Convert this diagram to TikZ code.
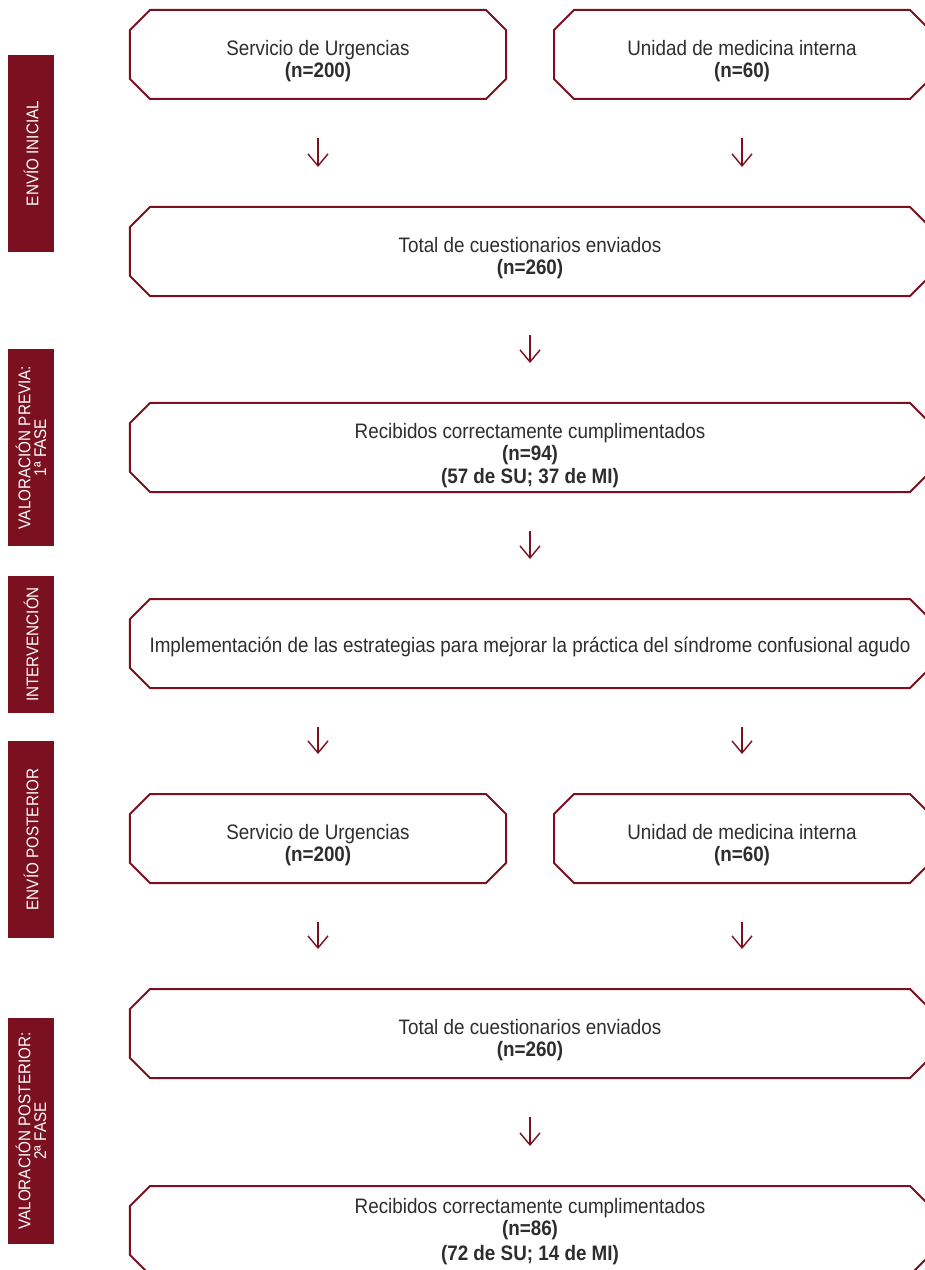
\documentclass[tikz,border=0pt]{standalone}
\usepackage{fontspec}
\setmainfont{Liberation Sans}[FakeStretch=0.9]
\usetikzlibrary{arrows.meta}
\definecolor{granate}{RGB}{123,17,32}
\definecolor{texto}{RGB}{45,45,45}
\newcommand{\alto}[1]{\rule{0pt}{#1}}
\tikzset{
  borde/.style={draw=granate, line width=1bp, line join=miter},
  caja/.style={rectangle, outer sep=0pt, inner sep=0pt, minimum height=44.5bp, align=center,
    text=texto, font=\fontsize{10.5}{11}\selectfont,
    append after command={\pgfextra{\draw[borde]
      ([xshift=10bp]\tikzlastnode.north west) -- ([xshift=-10bp]\tikzlastnode.north east)
      -- ([yshift=-10bp]\tikzlastnode.north east) -- ([yshift=10bp]\tikzlastnode.south east)
      -- ([xshift=-10bp]\tikzlastnode.south east) -- ([xshift=10bp]\tikzlastnode.south west)
      -- ([yshift=10bp]\tikzlastnode.south west) -- ([yshift=-10bp]\tikzlastnode.north west)
      -- cycle;}}},
  estrecha/.style={caja, minimum width=188bp},
  ancha/.style={caja, minimum width=400bp},
  fase/.style={fill=granate, text=white, rotate=90, minimum height=23bp, inner sep=0pt,
    align=center, font=\fontsize{8.5}{7.8}\selectfont},
  flecha/.style={-{Straight Barb[length=6bp,width=10bp]}, line width=0.7bp, granate,
    shorten <=19.5bp, shorten >=20bp}
}

\begin{document}
\begin{tikzpicture}[x=0.5bp,y=-0.5bp]
  \useasboundingbox (0,0) rectangle (924,1270);
  % fases
  \node[fase, minimum width=98.5bp] (f1) at (31,153.5) {ENVÍO INICIAL};
  \node[fase, minimum width=98.5bp] (f2) at (31,447.5) {VALORACIÓN PREVIA:\\1ª FASE};
  \node[fase, minimum width=68.5bp] (f3) at (31,644.5) {INTERVENCIÓN};
  \node[fase, minimum width=98.5bp] (f4) at (31,839.5) {ENVÍO POSTERIOR};
  \node[fase, minimum width=113bp]  (f5) at (31,1131) {VALORACIÓN POSTERIOR:\\2ª FASE};
  % cajas
  \node[estrecha] (su1) at (318,54.5) {\alto{14bp}Servicio de Urgencias\\\textbf{(n=200)}};
  \node[estrecha] (mi1) at (742,54.5) {\alto{14bp}Unidad de medicina interna\\\textbf{(n=60)}};
  \node[ancha] (tot1) at (530,251.5) {\alto{14bp}Total de cuestionarios enviados\\\textbf{(n=260)}};
  \node[ancha] (rec1) at (530,447.5) {\alto{16bp}Recibidos correctamente cumplimentados\\\textbf{(n=94)}\\[0.5bp]\textbf{(57 de SU; 37 de MI)}};
  \node[ancha] (imp) at (530,643.5) {\alto{11bp}Implementación de las estrategias para mejorar la práctica del síndrome confusional agudo};
  \node[estrecha] (su2) at (318,838.5) {\alto{14bp}Servicio de Urgencias\\\textbf{(n=200)}};
  \node[estrecha] (mi2) at (742,838.5) {\alto{14bp}Unidad de medicina interna\\\textbf{(n=60)}};
  \node[ancha] (tot2) at (530,1033.5) {\alto{14bp}Total de cuestionarios enviados\\\textbf{(n=260)}};
  \node[ancha] (rec2) at (530,1230.5) {\alto{8.7bp}Recibidos correctamente cumplimentados\\\textbf{(n=86)}\\[2bp]\textbf{(72 de SU; 14 de MI)}};
  % flechas
  \draw[flecha] (su1.south) -- (su1.south |- tot1.north);
  \draw[flecha] (mi1.south) -- (mi1.south |- tot1.north);
  \draw[flecha] (tot1.south) -- (rec1.north);
  \draw[flecha] (rec1.south) -- (imp.north);
  \draw[flecha] (su2.north |- imp.south) -- (su2.north);
  \draw[flecha] (mi2.north |- imp.south) -- (mi2.north);
  \draw[flecha] (su2.south) -- (su2.south |- tot2.north);
  \draw[flecha] (mi2.south) -- (mi2.south |- tot2.north);
  \draw[flecha] (tot2.south) -- (rec2.north);
\end{tikzpicture}
\end{document}
